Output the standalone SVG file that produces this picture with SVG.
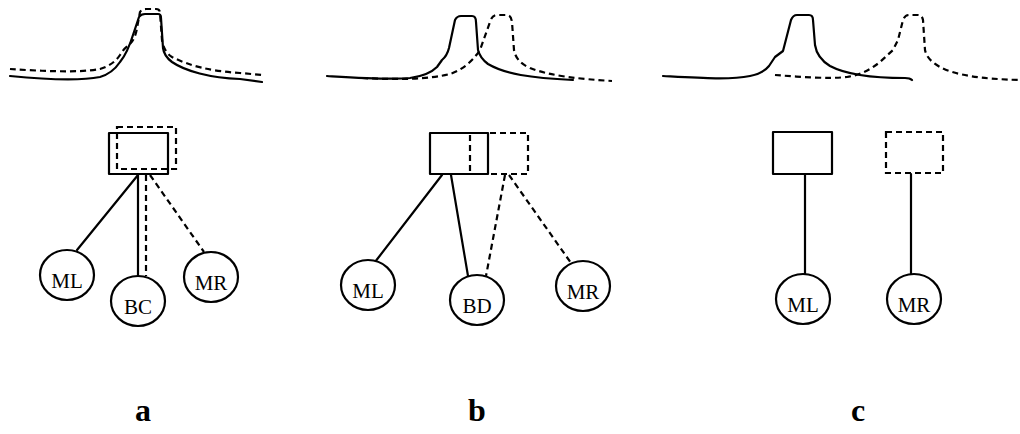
<svg xmlns="http://www.w3.org/2000/svg" width="1020" height="434" viewBox="0 0 1020 434">
<style>
.s{fill:none;stroke:#000;stroke-width:2.2;stroke-linejoin:round;stroke-linecap:round}
.d{fill:none;stroke:#000;stroke-width:2.2;stroke-dasharray:6 4}
.n{fill:#fff;stroke:#000;stroke-width:2.2}
.t{font-family:"Liberation Serif",serif;font-size:21px;text-anchor:middle}
.p{font-family:"Liberation Serif",serif;font-size:32px;font-weight:bold;text-anchor:middle}
</style>
<rect width="1020" height="434" fill="#fff"/>
<g id="curves">
<path class="s" d="M10,76 C40,79 80,81 100,77 C110,74 116,68 120,62 C126,55 130,45 134,32 L139,17 Q141,14 145,14 L158,14 Q161,14 161,18 L163,48 Q164,56 172,62 C185,71 210,78 240,79 L262,82"/>
<path class="d" d="M10,69 C40,71 80,73 100,69 C110,66 116,61 120,55 C124,48 128,46 130,44 C134,40 136,34 137,28 L140,12 Q142,9 146,9 L156,9 Q160,9 160,13 L162,40 Q164,52 172,57 C190,66 210,71 240,73 L262,75"/>
<path class="s" d="M327,76 C360,78 390,80 410,78 C425,76 432,72 437,67 L442,60 Q447,56 449,48 L455,20 Q457,16 461,16 L472,16 Q476,16 476,22 L478,50 Q480,58 488,64 C505,74 530,78 573,80"/>
<path class="d" d="M362,78 C400,80 430,79 450,74 C462,70 472,62 480,50 L490,22 Q492,15 497,15 L507,15 Q511,15 512,22 L514,50 Q516,62 530,68 C550,76 580,79 612,81"/>
<path class="s" d="M663,76 C700,78 730,80 750,76 C760,74 765,71 769,66 L775,57 L783,51 L791,20 Q793,15 797,15 L809,15 Q813,15 813,20 L815,45 Q817,58 830,66 C845,74 870,78 905,78 Q910,78 912,80"/>
<path class="d" d="M775,75 C800,77 830,79 847,77 C860,75 870,70 880,62 L893,50 L898,40 L903,20 Q905,15 909,15 L918,15 Q922,15 923,20 L925,50 Q927,60 940,67 C955,75 980,79 1020,80"/>
</g>
<g id="connectors">
<line class="s" x1="138" y1="175" x2="77" y2="250"/>
<line class="s" x1="138" y1="175" x2="138" y2="276"/>
<line class="d" x1="146" y1="175" x2="146" y2="276"/>
<line class="d" x1="150" y1="175" x2="204" y2="252"/>
<line class="s" x1="442" y1="175" x2="375" y2="262"/>
<line class="s" x1="451" y1="175" x2="468" y2="276"/>
<line class="d" x1="505" y1="175" x2="486" y2="276"/>
<line class="d" x1="509" y1="175" x2="571" y2="263"/>
<line class="s" x1="805" y1="174" x2="805" y2="274"/>
<line class="s" x1="911" y1="174" x2="911" y2="274"/>
</g>
<g id="box-a-solid"><rect class="s" x="109" y="133" width="59" height="41"/></g>
<g id="box-a-dashed"><rect class="d" x="117" y="127" width="59" height="42"/></g>
<g id="box-b-solid"><rect class="s" x="430" y="133" width="58" height="41"/></g>
<g id="box-b-dashed"><rect class="d" x="470" y="133" width="58" height="41"/></g>
<g id="box-c-solid"><rect class="s" x="773" y="132" width="59" height="42"/></g>
<g id="box-c-dashed"><rect class="d" x="886" y="132" width="57" height="41"/></g>
<g id="a-ML"><ellipse class="n" cx="67" cy="275" rx="27" ry="25"/><text class="t" x="67" y="288">ML</text></g>
<g id="a-BC"><ellipse class="n" cx="138" cy="301" rx="27" ry="25"/><text class="t" x="138" y="314">BC</text></g>
<g id="a-MR"><ellipse class="n" cx="211" cy="277" rx="27" ry="25"/><text class="t" x="211" y="290">MR</text></g>
<g id="b-ML"><ellipse class="n" cx="368" cy="285" rx="27" ry="25"/><text class="t" x="368" y="298">ML</text></g>
<g id="b-BD"><ellipse class="n" cx="477" cy="300" rx="27" ry="25"/><text class="t" x="477" y="313">BD</text></g>
<g id="b-MR"><ellipse class="n" cx="583" cy="286" rx="27" ry="25"/><text class="t" x="583" y="299">MR</text></g>
<g id="c-ML"><ellipse class="n" cx="803" cy="299" rx="27" ry="25"/><text class="t" x="803" y="312">ML</text></g>
<g id="c-MR"><ellipse class="n" cx="914" cy="299" rx="27" ry="25"/><text class="t" x="914" y="312">MR</text></g>
<g id="labels">
<text class="p" x="143" y="421">a</text>
<text class="p" x="477" y="421">b</text>
<text class="p" x="858" y="421">c</text>
</g>
</svg>
